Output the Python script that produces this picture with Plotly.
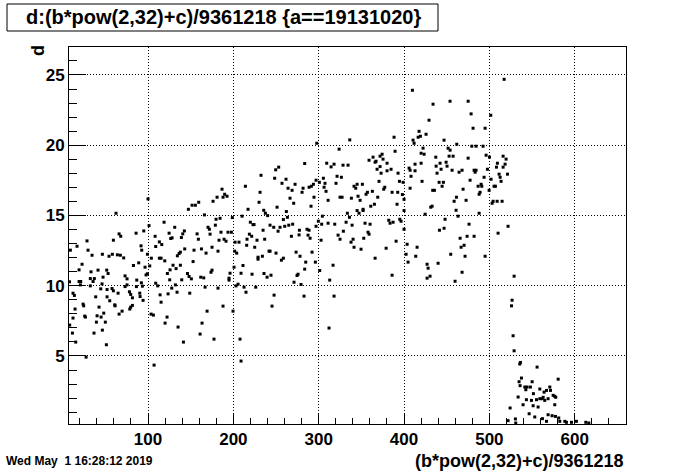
import plotly.graph_objects as go

# ---- data (x, d) ----
pts_top = [
    (297.7, 20.14), (323.9, 19.72), (283.6, 18.70), (309.4, 18.72), (314.5, 18.46), (318.0, 18.65),
    (328.5, 18.58), (253.1, 18.44), (249.6, 18.25),
    (336.4, 20.38), (334.4, 18.58), (409.8, 23.91), (434.0, 22.92), (453.9, 23.13), (475.1, 23.13),
    (478.6, 22.23), (429.3, 21.78), (480.9, 21.21), (495.0, 21.21), (417.6, 20.99), (425.8, 20.78),
    (416.5, 20.57), (419.2, 20.64), (410.6, 20.36), (411.8, 20.14), (388.3, 20.57), (446.9, 20.36),
    (461.8, 20.07), (451.6, 19.79), (454.0, 19.65), (479.4, 19.93), (484.4, 19.93), (492.6, 19.93),
    (422.3, 19.79), (389.5, 19.57), (420.0, 19.43), (423.5, 19.36), (437.2, 19.15), (452.8, 19.22),
    (457.5, 19.22), (496.2, 19.29), (475.1, 19.08), (374.3, 19.36), (363.7, 19.15), (359.0, 18.93),
    (371.9, 19.22), (367.2, 18.86), (375.4, 19.01), (366.1, 18.79), (380.1, 18.72), (371.9, 18.48),
    (368.4, 18.29), (380.1, 18.18), (384.8, 18.29), (373.1, 18.01), (393.0, 18.01), (405.9, 18.37),
    (407.1, 18.22), (412.9, 18.18), (412.9, 18.65), (420.0, 18.72), (437.6, 18.51), (442.2, 18.72),
    (449.3, 18.79), (443.4, 18.29), (450.4, 18.51), (438.7, 18.01), (456.3, 18.22), (464.5, 18.08),
    (468.0, 18.22), (482.1, 18.22), (484.4, 18.22), (483.3, 18.08),
    (517.3, 24.69), (501.6, 22.13), (500.1, 19.15), (509.4, 18.72), (516.1, 19.22), (519.6, 19.01),
    (518.4, 18.65), (516.1, 18.44), (508.3, 18.44), (497.7, 18.29), (511.4, 17.94), (521.2, 17.94),
]

pts_left = [
    (100.0, 16.18), (62.5, 15.16), (166.1, 15.04), (147.3, 15.44), (151.6, 15.73), (155.5, 15.73),
    (159.4, 15.94), (101.2, 14.28), (118.8, 14.52), (95.0, 13.90), (86.0, 13.74), (66.1, 13.69),
    (68.0, 13.52), (59.4, 13.24), (28.5, 13.19), (108.3, 13.52), (113.3, 13.12), (116.1, 12.93),
    (124.7, 13.74), (131.3, 14.16), (128.2, 13.41), (126.6, 13.36), (139.1, 13.43), (142.6, 13.90),
    (140.7, 13.69), (157.5, 13.69), (159.0, 13.31), (9.0, 12.53), (16.8, 12.81), (29.7, 12.53),
    (34.4, 12.17), (46.5, 12.24), (54.3, 12.10), (58.2, 12.24), (64.1, 12.20), (67.6, 12.17),
    (71.5, 11.98), (92.6, 12.53), (91.8, 12.84), (99.3, 12.24), (103.9, 11.96), (113.3, 11.96),
    (115.3, 11.96), (119.6, 11.77), (109.0, 12.79), (134.4, 12.13), (136.4, 12.29), (143.0, 12.62),
    (137.9, 12.39), (153.9, 12.53), (162.6, 12.62), (168.0, 12.32), (152.8, 11.72), (22.7, 11.53),
    (19.2, 11.13), (82.9, 11.44), (89.1, 11.63), (96.5, 11.32), (102.0, 11.41), (129.3, 11.46),
    (125.8, 11.13), (137.9, 11.46), (132.9, 11.22), (33.2, 10.99), (32.4, 10.51), (41.4, 11.11),
    (51.6, 11.11), (53.2, 10.87), (47.3, 10.61), (37.1, 10.51), (35.6, 10.30), (19.2, 10.30),
    (21.1, 10.30), (8.0, 10.28), (73.1, 10.70), (75.4, 10.49), (86.8, 10.40), (92.2, 10.21),
    (97.7, 10.77), (99.3, 10.85), (122.7, 10.87), (125.4, 10.42), (139.5, 10.42), (146.2, 10.87),
    (148.1, 10.66), (150.8, 10.49), (161.8, 10.61), (165.3, 10.56), (20.7, 10.06), (32.4, 9.99),
    (46.1, 10.13), (75.4, 10.06), (73.1, 9.94), (86.4, 9.94), (93.4, 9.97), (109.0, 10.18),
    (111.4, 9.99), (132.1, 10.06), (127.8, 9.83), (166.9, 9.90), (44.6, 9.78), (52.0, 9.73),
    (57.8, 9.80), (59.4, 9.64), (12.1, 9.47), (13.7, 9.31), (38.7, 9.21), (52.0, 9.21),
    (64.9, 9.47), (78.2, 9.57), (79.7, 9.38), (81.7, 9.14), (90.3, 9.47), (90.7, 9.23),
    (114.1, 9.35), (123.5, 9.42), (134.0, 9.54), (148.9, 9.47), (115.3, 8.83), (55.1, 8.93),
    (94.2, 8.96),
    (23.9, 8.69), (24.6, 8.57), (61.0, 8.64), (61.4, 8.57), (79.7, 8.48), (81.7, 8.60),
    (14.5, 8.34), (8.2, 7.20), (12.1, 7.70), (11.4, 6.63), (15.3, 5.99), (25.8, 7.84),
    (26.6, 7.77), (27.4, 4.92), (36.7, 6.63), (39.5, 7.41), (40.3, 7.86), (42.6, 8.48),
    (45.0, 7.77), (48.1, 8.05), (46.5, 6.84), (50.0, 7.41), (51.2, 5.80), (66.1, 7.98),
    (69.6, 8.19), (78.6, 8.34), (103.6, 7.98), (106.3, 7.91), (107.1, 4.35), (120.0, 7.34),
    (122.3, 7.77), (135.2, 7.06), (141.5, 5.99), (161.0, 6.56), (163.3, 7.34), (169.2, 8.19),
    (187.9, 8.55), (199.6, 8.19), (177.3, 6.20), (207.8, 6.20), (209.0, 4.64), (245.3, 8.55),
    (312.1, 6.99),
]

pts_mid = [
    (232.4, 17.86), (248.4, 17.65), (261.7, 17.58), (257.0, 17.29), (272.3, 17.22), (214.1, 17.08),
    (186.7, 16.87), (264.1, 16.94), (268.8, 16.79), (281.7, 16.94), (280.5, 16.65), (288.7, 17.01),
    (291.4, 17.08), (293.8, 17.22), (296.9, 17.51), (300.8, 17.36), (305.5, 17.65), (307.4, 17.29),
    (306.3, 17.01), (308.6, 16.72), (321.5, 17.79), (326.6, 17.72), (320.3, 17.29), (231.3, 16.65),
    (180.9, 16.30), (176.2, 16.01), (189.8, 16.51), (187.9, 16.30), (192.6, 16.37), (266.4, 16.23),
    (270.7, 15.87), (294.5, 16.30), (311.0, 16.08), (325.0, 16.30), (327.4, 16.30), (230.1, 15.94),
    (251.2, 15.59), (291.0, 15.66), (217.2, 15.44), (235.6, 15.37), (237.5, 15.16), (240.2, 14.99),
    (262.1, 15.28), (263.3, 14.87), (210.2, 14.95), (198.8, 14.85), (184.4, 14.80), (179.7, 14.73),
    (304.3, 14.95), (258.6, 14.71), (219.9, 14.52), (223.0, 14.35), (224.2, 14.35), (243.0, 14.31),
    (247.3, 14.16), (254.7, 14.16), (260.2, 14.23), (264.9, 14.31), (269.5, 14.38), (299.6, 14.59),
    (303.5, 14.38), (311.0, 14.45), (318.8, 14.38), (332.1, 14.52), (170.3, 14.16), (171.9, 14.02),
    (178.9, 14.31), (185.5, 13.81), (193.7, 13.81), (197.7, 13.81), (234.8, 13.95), (252.4, 13.88),
    (277.4, 13.95), (286.3, 14.02), (288.7, 13.95), (296.9, 14.23), (172.7, 13.67), (218.8, 13.67),
    (221.5, 13.52), (216.0, 13.31), (227.7, 13.24), (236.7, 13.31), (268.0, 13.52), (277.0, 13.62),
    (287.5, 13.60), (289.9, 13.38), (302.8, 13.24), (322.7, 13.60), (325.0, 13.31), (328.9, 13.88),
    (183.2, 13.24), (189.1, 13.31), (191.4, 13.17), (202.0, 13.10), (206.6, 13.10), (175.0, 12.74),
    (182.0, 12.46), (215.6, 12.88), (225.0, 12.74), (201.6, 12.46), (203.9, 12.32), (241.8, 12.46),
    (243.0, 12.46), (250.0, 12.32), (273.5, 12.39), (292.2, 12.39), (228.9, 12.03), (228.9, 11.89),
    (234.0, 12.10), (258.6, 11.96), (256.3, 11.82), (278.1, 12.10), (284.8, 11.68), (296.1, 11.68),
    (316.8, 11.46), (211.3, 11.44), (200.8, 11.32), (283.6, 11.18), (301.2, 11.08), (175.0, 11.11),
    (173.8, 10.96), (196.1, 10.89), (209.0, 10.89), (221.9, 10.82), (235.9, 10.87), (244.1, 10.75),
    (239.5, 10.61), (275.8, 10.82), (274.6, 10.73), (194.9, 10.54), (194.9, 10.40), (205.5, 10.11),
    (203.1, 9.99), (312.9, 10.40), (271.1, 10.25), (279.3, 10.09), (182.0, 9.83), (212.5, 9.90),
    (226.2, 9.90), (214.8, 9.54), (247.7, 9.33), (282.8, 9.26), (318.0, 9.26),
]

pts_right = [
    (408.2, 17.79), (421.1, 17.43), (370.7, 17.43), (394.6, 17.43), (398.9, 17.36), (441.1, 17.36),
    (446.1, 17.36), (444.6, 17.08), (477.4, 17.51), (493.8, 17.72), (486.8, 17.08), (491.1, 17.08),
    (490.3, 17.22), (351.2, 17.22), (345.0, 17.22), (341.4, 17.08), (343.4, 16.94), (377.4, 17.01),
    (376.2, 16.87), (407.1, 16.94), (433.6, 16.79), (435.6, 16.79), (469.2, 16.87), (362.9, 16.72),
    (357.1, 16.65), (355.5, 16.51), (386.0, 16.65), (392.6, 16.65), (398.1, 16.49), (489.1, 16.65),
    (488.0, 16.51), (346.1, 16.37), (338.3, 16.23), (369.2, 16.30), (348.5, 16.08), (400.0, 16.15),
    (461.4, 16.30), (458.7, 16.01), (472.7, 16.08), (365.3, 15.80), (361.0, 15.66), (391.8, 15.80),
    (432.9, 15.66), (431.3, 15.59), (352.0, 15.44), (352.0, 15.35), (345.0, 15.35), (347.3, 15.16),
    (333.6, 15.16), (400.0, 15.35), (424.7, 15.09), (461.0, 15.37), (488.0, 15.16), (463.3, 14.95),
    (336.0, 14.87), (354.3, 14.45), (360.2, 14.38), (339.1, 14.31), (382.1, 14.66), (383.6, 14.45),
    (387.2, 14.52), (395.0, 14.73), (396.5, 14.59), (448.1, 14.73), (476.2, 14.38), (446.9, 14.09),
    (441.5, 13.95), (400.0, 14.02), (357.8, 13.81), (359.0, 13.67), (352.8, 13.38), (340.3, 13.31),
    (337.9, 13.10), (465.7, 13.38), (473.9, 13.52), (482.1, 13.52), (390.7, 13.17), (470.4, 12.88),
    (466.9, 12.74), (403.6, 12.95), (415.3, 12.74), (379.0, 12.67), (341.4, 12.74), (349.6, 12.60),
    (402.4, 12.24), (413.7, 12.10), (454.7, 12.24), (471.5, 12.10), (495.0, 12.10), (366.1, 11.96),
    (404.7, 11.68), (439.9, 11.60), (427.0, 11.53), (428.2, 11.25), (468.0, 10.96), (386.0, 10.75),
    (430.5, 10.68), (427.0, 10.54), (459.8, 10.32),
    (512.6, 17.72), (502.0, 17.58), (513.7, 17.43), (505.5, 17.08), (507.1, 17.08), (499.7, 16.79),
    (504.4, 16.01), (503.2, 15.87), (509.1, 16.01), (514.9, 16.01), (521.9, 14.23), (510.2, 13.74),
    (529.0, 10.68), (526.6, 8.97),
]

pts_tail = [
    (525.9, 8.57), (527.8, 6.44), (529.0, 5.37), (536.4, 4.54), (535.6, 4.43), (534.8, 3.17),
    (537.6, 3.43), (536.0, 2.89), (541.5, 2.79), (542.7, 2.60), (544.2, 2.79), (550.1, 3.17),
    (548.1, 2.79), (555.9, 4.21), (533.7, 2.08), (543.4, 1.89), (539.5, 1.53), (549.3, 1.84),
    (551.6, 2.32), (551.3, 1.46), (555.2, 1.89), (559.1, 2.65), (559.1, 1.96), (561.8, 1.96),
    (564.1, 2.43), (566.9, 2.55), (563.0, 2.06), (557.1, 1.37), (564.9, 1.84), (568.8, 1.96),
    (570.8, 2.79), (571.6, 2.55), (574.7, 2.20), (576.6, 2.13), (577.8, 2.06), (580.6, 3.35),
    (576.6, 1.53), (524.3, 1.30), (546.6, 0.89), (553.2, 0.66), (562.2, 0.54), (568.8, 0.82),
    (573.5, 0.75), (577.4, 0.70), (581.3, 0.59), (582.5, 0.35), (588.4, 0.35), (590.3, 0.28),
    (596.2, 0.28), (602.0, 0.35), (613.0, 0.28), (616.5, 0.23), (530.5, 0.52), (530.9, 0.23),
    (521.9, 0.40), (566.9, 0.35),
]

x_range = [7.4, 660.1]
y_range = [0.16, 26.99]
title_text = "d:(b*pow(2,32)+c)/9361218 {a==19131020}"
x_title = "(b*pow(2,32)+c)/9361218"
y_title = "d"
date_text = "Wed May \u00a01 16:28:12 2019"

all_pts = pts_top + pts_left + pts_mid + pts_right + pts_tail
xs = [p[0] for p in all_pts]
ys = [p[1] for p in all_pts]

FONT = "Liberation Sans"

fig = go.Figure(go.Scatter(
    x=xs, y=ys, mode="markers",
    marker=dict(symbol="square", size=3, color="black", line=dict(width=0)),
    hoverinfo="skip",
))

W, H = 696, 472
L, R, T, B = 69, 70, 47, 48
PW, PH = W - L - R, H - T - B

def px(xabs):
    return (xabs - L) / PW

def py(yabs):
    return (H - B - yabs) / PH

fig.update_layout(
    width=W, height=H,
    margin=dict(l=L, r=R, t=T, b=B, pad=0),
    paper_bgcolor="white", plot_bgcolor="white",
    showlegend=False,
    font=dict(family=FONT, color="black"),
)

axis_common = dict(
    ticks="inside", tickcolor="black", tickwidth=1,
    showgrid=True, gridcolor="black", gridwidth=1, griddash="1px,2px",
    showline=True, linecolor="black", linewidth=1, mirror=True,
    zeroline=False, tickfont=dict(family=FONT, size=17, color="black", weight="bold"),
)

fig.update_xaxes(
    range=x_range, tickmode="linear", tick0=0, dtick=100, ticklen=11,
    minor=dict(tick0=0, dtick=20, ticks="inside", ticklen=6, tickcolor="black", tickwidth=1, showgrid=False),
    **axis_common,
)
fig.update_yaxes(
    range=y_range, tickmode="linear", tick0=0, dtick=5, ticklen=17,
    minor=dict(tick0=0, dtick=1, ticks="inside", ticklen=8, tickcolor="black", tickwidth=1, showgrid=False),
    **axis_common,
)

# title box
fig.add_shape(type="rect", xref="paper", yref="paper",
              x0=px(7), x1=px(438), y0=py(31), y1=py(4),
              line=dict(color="black", width=1), fillcolor="white", layer="above")

fig.add_annotation(text=title_text, xref="paper", yref="paper", x=px(223), y=py(17.5),
                   xanchor="center", yanchor="middle", showarrow=False,
                   font=dict(family=FONT, size=20, color="black", weight="bold"))
fig.add_annotation(text=x_title, xref="paper", yref="paper", x=1.0, y=py(461),
                   xanchor="right", yanchor="middle", showarrow=False,
                   font=dict(family=FONT, size=18, color="black", weight="bold"))
fig.add_annotation(text=y_title, xref="paper", yref="paper", x=px(38), y=py(51),
                   xanchor="center", yanchor="middle", showarrow=False, textangle=-90,
                   font=dict(family=FONT, size=18, color="black", weight="bold"))
fig.add_annotation(text=date_text, xref="paper", yref="paper", x=px(4), y=py(461),
                   xanchor="left", yanchor="middle", showarrow=False,
                   font=dict(family=FONT, size=12, color="black", weight="bold"))

fig.write_html(
    "out.html",
    config={"displayModeBar": False, "staticPlot": True},
    post_script="document.body.style.margin='0';document.body.style.padding='0';"
                "document.body.style.overflow='hidden';",
)
